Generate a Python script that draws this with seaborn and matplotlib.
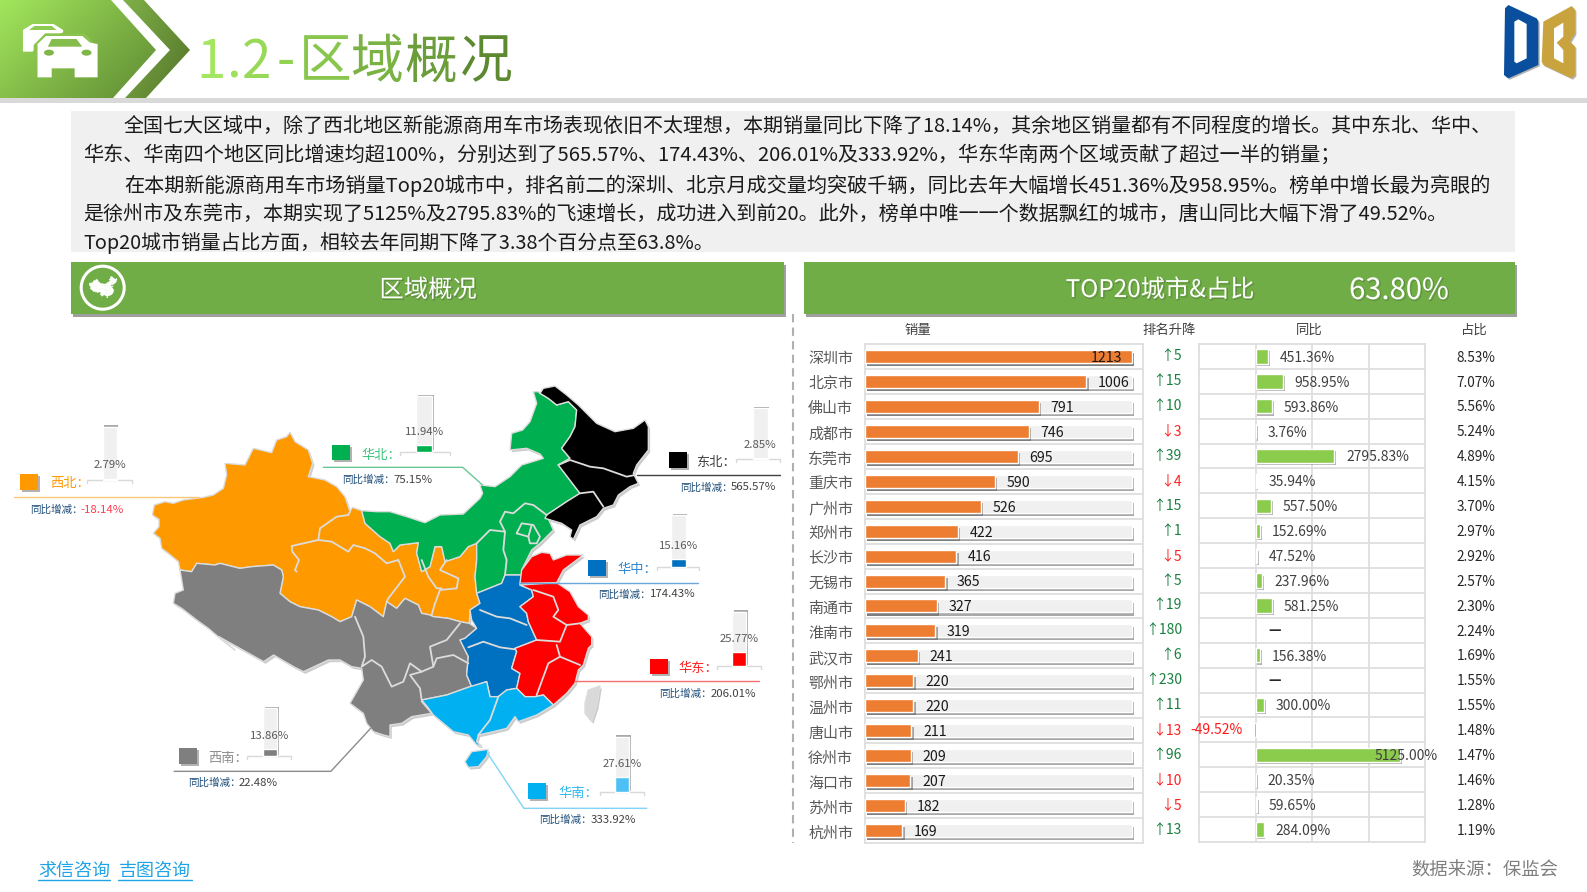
#!/usr/bin/env python3
"""新能源商用车 区域概况 + TOP20城市"""
import numpy as np
import pandas as pd
import matplotlib
matplotlib.use('Agg')
import matplotlib.pyplot as plt
import matplotlib.patheffects as pe
from matplotlib.colors import LinearSegmentedColormap
from matplotlib.patches import Polygon, Circle, Ellipse, Rectangle
from matplotlib.transforms import ScaledTranslation
import seaborn as sns

# ---- top20 data ----
cities = ['深圳市', '北京市', '佛山市', '成都市', '东莞市', '重庆市', '广州市', '郑州市', '长沙市', '无锡市',
          '南通市', '淮南市', '武汉市', '鄂州市', '温州市', '唐山市', '徐州市', '海口市', '苏州市', '杭州市']
sales = [1213, 1006, 791, 746, 695, 590, 526, 422, 416, 365, 327, 319, 241, 220, 220, 211, 209, 207, 182, 169]
rank_change = [5, 15, 10, -3, 39, -4, 15, 1, -5, 5, 19, 180, 6, 230, 11, -13, 96, -10, -5, 13]
yoy = [451.36, 958.95, 593.86, 3.76, 2795.83, 35.94, 557.50, 152.69, 47.52, 237.96,
       581.25, np.nan, 156.38, np.nan, 300.00, -49.52, 5125.00, 20.35, 59.65, 284.09]
share = [8.53, 7.07, 5.56, 5.24, 4.89, 4.15, 3.70, 2.97, 2.92, 2.57,
         2.30, 2.24, 1.69, 1.55, 1.55, 1.48, 1.47, 1.46, 1.28, 1.19]

# ---- region data ----
regions = ['西北', '华北', '东北', '华中', '华东', '华南', '西南']
region_share = [2.79, 11.94, 2.85, 15.16, 25.77, 27.61, 13.86]
region_yoy = [-18.14, 75.15, 565.57, 174.43, 206.01, 333.92, 22.48]

paragraph = [
    '全国七大区域中，除了西北地区新能源商用车市场表现依旧不太理想，本期销量同比下降了18.14%，其余地区销量都有不同程度的增长。其中东北、华中、',
    '华东、华南四个地区同比增速均超100%，分别达到了565.57%、174.43%、206.01%及333.92%，华东华南两个区域贡献了超过一半的销量；',
    '在本期新能源商用车市场销量Top20城市中，排名前二的深圳、北京月成交量均突破千辆，同比去年大幅增长451.36%及958.95%。榜单中增长最为亮眼的',
    '是徐州市及东莞市，本期实现了5125%及2795.83%的飞速增长，成功进入到前20。此外，榜单中唯一一个数据飘红的城市，唐山同比大幅下滑了49.52%。',
    'Top20城市销量占比方面，相较去年同期下降了3.38个百分点至63.8%。',
]

W, H = 1587, 892
sns.set_theme(style='white')
plt.rcParams['font.family'] = ['Noto Sans CJK SC', 'DejaVu Sans']
plt.rcParams['axes.unicode_minus'] = False

fig = plt.figure(figsize=(W / 100, H / 100), dpi=100, facecolor='white')


def px_axes(x0, y0, x1, y1, zorder=2):
    a = fig.add_axes([x0 / W, 1 - y1 / H, (x1 - x0) / W, (y1 - y0) / H], zorder=zorder)
    a.patch.set_alpha(0)
    return a


bg = px_axes(0, 0, W, H, zorder=0)
bg.set_xlim(0, W)
bg.set_ylim(H, 0)
bg.axis('off')


def shadow(dx=1.5, dy=-2, alpha=0.55, color='#404040'):
    return [pe.SimplePatchShadow(offset=(dx, dy), shadow_rgbFace=color, alpha=alpha), pe.Normal()]


def gradient_patch(points, c0, c1):
    poly = Polygon(points, closed=True, fc='none', ec='none')
    bg.add_patch(poly)
    xs = [p[0] for p in points]
    ys = [p[1] for p in points]
    gx, gy = np.meshgrid(np.linspace(0, 1, 200), np.linspace(0, 1, 100))
    cmap = LinearSegmentedColormap.from_list('g', [c0, c1])
    im = bg.imshow(0.6 * gx + 0.4 * gy, extent=(min(xs), max(xs), max(ys), min(ys)), cmap=cmap, aspect='auto', zorder=1)
    im.set_clip_path(poly)


# ---- header ----
gradient_patch([(0, 0), (111, 0), (156, 50), (113, 98), (0, 98)], '#a2e65c', '#5f8a33')
gradient_patch([(123, 0), (144, 0), (190, 50), (146, 98), (125, 98), (170, 50)], '#7fb048', '#55752a')
bg.add_patch(Rectangle((0, 98), W, 4.5, fc='#d9d9d9', ec='none', zorder=2))


def z3(pts):
    return [(x / 2.613, y / 3) for x, y in pts]


back_car = [(60, 90), (85, 72), (140, 72), (165, 90), (165, 97), (110, 125), (85, 155), (60, 155)]
front_car = [(98, 132), (120, 108), (215, 108), (235, 128), (255, 132), (255, 232), (195, 232), (195, 205),
             (135, 205), (135, 232), (98, 232)]
bg.add_patch(Polygon(z3(back_car), fc='white', ec='none', zorder=3))
bg.add_patch(Polygon(z3([(76, 90), (90, 78), (135, 78), (148, 90)]), fc='#8ccb50', ec='none', zorder=3))
bg.add_patch(Polygon(z3([(88, 135), (118, 100), (222, 100), (245, 130), (245, 170), (88, 170)]), fc='#8ac44e', ec='none', zorder=3))
bg.add_patch(Polygon(z3(front_car), fc='white', ec='none', zorder=3))
bg.add_patch(Polygon(z3([(125, 140), (135, 117), (200, 117), (215, 140)]), fc='#85bd4c', ec='none', zorder=4))
for cx in (128, 226):
    bg.add_patch(Ellipse((cx / 2.613, 158 / 3), 10, 6, fc='#80b648', ec='none', zorder=4))

title_chars = ['1', '.', '2', '-', '区', '域', '概', '况']
title_xc = [211, 233, 257, 286, 325, 376, 430.5, 486]
title_cmap = LinearSegmentedColormap.from_list('t', ['#a4e660', '#8fd052', '#5d8a30'])
for k, (ch, xc) in enumerate(zip(title_chars, title_xc)):
    bg.text(xc, 62, ch, fontsize=38, color=title_cmap(k / 7), ha='center', va='center', fontweight='light')

# logo
logo_d = [(75, 25), (85, 15), (170, 55), (175, 65), (175, 195), (85, 235), (72, 225)]
logo_d_hole = [(103, 65), (115, 58), (140, 72), (140, 175), (110, 190), (103, 185)]
logo_b = [(190, 65), (275, 18), (285, 30), (285, 100), (270, 125), (285, 140), (285, 225), (275, 235), (190, 195), (185, 185)]
logo_b_hole = [(222, 85), (250, 68), (250, 110), (230, 128), (250, 150), (250, 190), (222, 175)]


def z4(pts):
    return [(1480 + x / 3, y / 3) for x, y in pts]


bg.add_patch(Polygon(z4(logo_d), fc='#0a4f9e', ec='none', zorder=3, path_effects=shadow(1, -1, 0.4)))
bg.add_patch(Polygon(z4(logo_d_hole), fc='white', ec='none', zorder=3))
bg.add_patch(Polygon(z4(logo_b), fc='#c9a33e', ec='none', zorder=3, path_effects=shadow(1, -1, 0.4)))
bg.add_patch(Polygon(z4(logo_b_hole), fc='white', ec='none', zorder=3))

# ---- paragraph ----
bg.add_patch(Rectangle((71, 111), 1444, 141, fc='#f0f0f0', ec='none', zorder=1))
para_y = [126.5, 155.5, 185.5, 214.5, 243]
para_x0 = [124, 83, 124, 83, 83]
para_x1 = [1490, 1342, 1492, 1447, 712]
renderer = fig.canvas.get_renderer()
for line, y, x0, x1 in zip(paragraph, para_y, para_x0, para_x1):
    t = bg.text(x0, y, line, fontsize=14.5, color='#1a1a1a', ha='left', va='center', zorder=3)
    t.set_fontsize(14.5 * (x1 - x0) / t.get_window_extent(renderer).width)

# ---- green bars ----
for x0, x1 in ((71, 784), (804, 1515)):
    bg.add_patch(Rectangle((x0, 262), x1 - x0, 52, fc='#70ad47', ec='none', zorder=2, path_effects=shadow(1.2, -1.8, 0.5)))
txt_fx = [pe.SimpleLineShadow(offset=(0.8, -0.8), shadow_color='#333333', alpha=0.45, linewidth=0.4), pe.Normal()]
bg.text(428, 290, '区域概况', color='white', fontsize=17.5, ha='center', va='center', zorder=3, path_effects=txt_fx)
bg.text(1160, 290, 'TOP20城市&占比', color='white', fontsize=17.5, ha='center', va='center', zorder=3, path_effects=txt_fx)
bg.text(1399, 291, '63.80%', color='white', fontsize=21, ha='center', va='center', zorder=3, path_effects=txt_fx)
bg.add_patch(Circle((102.7, 287.7), 21.5, fc='none', ec='white', lw=2.2, zorder=3))

bg.plot([792.7, 792.7], [314, 843], color='#b0b0b0', lw=1.5, ls=(0, (4, 2.5)), zorder=1)


# ---- map outlines (three crops, each 3x) ----
def ca(pts):
    return [(145 + x / 3, 420 + y / 3) for x, y in pts]


def cb(pts):
    return [(340 + x / 3, 380 + y / 3) for x, y in pts]


def cc(pts):
    return [(340 + x / 3, 560 + y / 3) for x, y in pts]


nw_outer = ca([(105, 450), (100, 425), (70, 400), (50, 385), (45, 355), (25, 340), (42, 320), (42, 298), (22, 285),
               (28, 255), (60, 245), (85, 250), (115, 240), (175, 232), (205, 225), (235, 205), (245, 165), (240, 130),
               (300, 135), (325, 85), (380, 98), (395, 60), (425, 50), (435, 37), (450, 65), (490, 90), (503, 130),
               (490, 170), (540, 180), (575, 200), (600, 230), (615, 275), (622, 262)])
orange_green = cb([(65, 392), (75, 430), (120, 470), (150, 490), (160, 515), (180, 495), (235, 488), (230, 520), (245, 575),
                   (270, 560), (285, 500), (305, 500), (315, 545), (360, 530), (385, 500), (410, 490)]) + \
    cc([(410, 0), (405, 50), (410, 100)])
orange_blue = cc([(420, 130), (390, 150), (388, 190)])
orange_grey_e = cc([(360, 185), (325, 175), (280, 170), (270, 165), (245, 160), (235, 135), (195, 115), (170, 145),
                    (140, 125), (130, 170), (90, 140), (50, 120), (35, 170), (0, 185)])
orange_grey_w = ca([(560, 590), (520, 570), (465, 560), (435, 545), (405, 520), (415, 470), (410, 450), (385, 435),
                    (320, 440), (285, 445), (225, 430), (210, 435), (155, 430), (140, 455), (105, 450)])
green_north = cb([(65, 392), (110, 395), (150, 395), (200, 410), (255, 428), (300, 405), (370, 402), (420, 355), (428, 340),
                  (420, 315), (465, 320), (510, 290), (545, 255), (610, 235), (600, 222), (560, 205), (510, 210),
                  (515, 160), (548, 150), (570, 125), (590, 70), (580, 35), (595, 35), (600, 40)])
green_black = cb([(620, 405), (680, 365), (720, 340), (655, 255), (690, 235), (665, 205), (690, 170), (705, 140),
                  (710, 90), (685, 65), (650, 75), (625, 55), (600, 40)])
black_outer = cb([(600, 40), (610, 25), (645, 18), (680, 45), (715, 75), (745, 105), (770, 130), (825, 155), (880, 145),
                  (915, 120), (925, 140), (925, 210), (890, 255), (880, 280), (895, 310), (870, 320), (835, 345),
                  (820, 375), (790, 385), (770, 410), (720, 435), (700, 478), (690, 470), (695, 450), (665, 430),
                  (615, 415), (620, 405)])
green_coast = cb([(640, 450), (600, 490), (575, 510), (545, 570)])
green_blue = cc([(545, 45), (495, 45), (485, 70), (410, 100)])
shandong = cc([(545, 30), (575, -10), (605, -23), (630, -20), (640, 0), (680, -15), (730, -15), (670, 30), (650, 68), (540, 70)])
blue_red = cc([(540, 75), (575, 90), (580, 110), (540, 140), (560, 160), (565, 185), (590, 240), (525, 265), (530, 275),
               (515, 325), (540, 340), (530, 385)])
red_east = cc([(540, 395), (555, 410), (585, 410), (610, 405), (640, 435), (680, 400), (705, 370), (715, 330), (730, 315),
               (745, 265), (755, 255), (755, 230), (720, 190), (745, 180), (745, 165), (715, 140), (690, 95), (650, 68)])
blue_west = cc([(500, 390), (475, 410), (450, 410), (440, 365), (395, 380), (380, 345), (385, 290), (360, 240), (375, 235),
                (410, 205), (395, 180), (390, 150), (420, 130), (410, 100), (485, 70), (495, 45), (545, 45)])
south_outer = cc([(640, 435), (590, 465), (535, 485), (525, 470), (500, 505), (460, 515), (415, 525), (410, 545), (425, 558),
                  (410, 555), (385, 525), (340, 515), (310, 490), (280, 465), (262, 440), (245, 420), (320, 405), (390, 380),
                  (440, 365), (450, 410), (475, 410), (500, 390), (530, 385), (540, 395), (555, 410), (585, 410), (610, 405)])
grey_south = ca([(105, 450), (110, 480), (115, 510), (90, 520), (85, 550), (110, 565), (155, 600), (190, 625), (225, 655), (270, 690)]) + \
    [(x / 2.01, 370 + y / 3) for x, y in [(440, 800), (530, 875), (550, 855), (590, 890), (610, 905), (660, 870)]] + \
    cc([(0, 300), (35, 320), (65, 325), (70, 360), (30, 430), (70, 460), (80, 490), (100, 515), (130, 525), (150, 530), (150, 495),
        (185, 490), (215, 470), (275, 460), (245, 425), (245, 420), (320, 405), (390, 380), (395, 380), (380, 345), (385, 290),
        (360, 240), (375, 235), (410, 205), (388, 190)])

map_shapes = {
    '西北': ('#ff9900', nw_outer + orange_green + orange_blue + orange_grey_e + orange_grey_w),
    '华北': ('#00b050', green_north + green_black[::-1] + green_coast + green_blue + orange_green[::-1]),
    '东北': ('#000000', black_outer + green_black),
    '山东': ('#ff0000', shandong),
    '华东': ('#ff0000', blue_red + red_east),
    '华中': ('#0070c0', blue_red + blue_west[:2] + blue_west[2:]),
    '华南': ('#00b0f0', south_outer),
    '海南': ('#00b0f0', cc([(375, 605), (395, 575), (445, 568), (440, 590), (415, 620), (385, 622)])),
    '西南': ('#7f7f7f', orange_grey_e + orange_grey_w + grey_south),
    '台湾': ('#d9d9d9', cc([(735, 430), (745, 390), (780, 378), (770, 440), (755, 485), (735, 460)])),
}
map_borders = [
    ca([(615, 275), (610, 285), (575, 290), (525, 325), (520, 360)]),
    ca([(520, 360), (440, 378), (442, 395), (462, 420), (450, 450), (455, 455)]),
    ca([(520, 360), (560, 365), (610, 395), (625, 375), (660, 385), (690, 400)]) + cc([(140, 10), (175, 0)]),
    cc([(175, 0), (195, 50), (145, 115), (140, 125)]),
    cc([(245, 0), (265, 50), (290, 85), (305, 85)]),
    cc([(320, 0), (300, 30), (355, 55), (350, 85), (300, 90), (285, 130), (275, 165)]),
    cc([(45, 170), (70, 230), (75, 290), (65, 320), (95, 300), (125, 320), (155, 380), (190, 365), (210, 310), (245, 335), (280, 320),
        (270, 260), (320, 240), (360, 190)]),
    cc([(280, 320), (290, 295), (340, 285), (385, 310)]),
    cc([(245, 335), (210, 345), (240, 385), (245, 420)]),
    cc([(420, 150), (470, 170), (510, 175), (560, 195)]),
    cc([(385, 262), (430, 245), (480, 262), (525, 268)]),
    cc([(580, 90), (640, 110), (655, 150), (640, 170), (680, 195), (720, 190)]),
    cc([(680, 195), (660, 245), (590, 240)]),
    cc([(650, 255), (660, 290), (720, 315)]),
    cc([(660, 290), (625, 310), (590, 405)]),
    cc([(475, 410), (450, 480), (415, 525)]),
    cb([(620, 405), (580, 375), (555, 370), (520, 400), (495, 395), (480, 425), (495, 455), (450, 450), (410, 490)]),
    cb([(495, 455), (490, 510), (500, 540), (495, 585)]),
    cb([(530, 460), (545, 430), (580, 435), (600, 470), (590, 490), (570, 490), (565, 470), (530, 460)]),
    cb([(565, 470), (575, 435)]),
    cb([(655, 255), (690, 240), (750, 260), (790, 265), (860, 290), (885, 285)]),
    cb([(720, 340), (760, 335), (790, 380)]),
]

for name, (col, pts) in map_shapes.items():
    bg.add_patch(Polygon([(x + 1.8, y + 2.2) for x, y in pts], fc='#000000', alpha=0.2, ec='none', zorder=2))
for name in ('西北', '华北', '东北', '西南', '华中', '华东', '山东', '华南', '海南', '台湾'):
    col, pts = map_shapes[name]
    bg.add_patch(Polygon(pts, fc=col, ec='#dcdcdc', lw=1.0, zorder=3, joinstyle='round'))
for seg in map_borders:
    xy = np.array(seg)
    bg.plot(xy[:, 0], xy[:, 1], color='#dcdcdc', lw=1.3, zorder=4, solid_joinstyle='round')

# small white china in the round badge
for name, (col, pts) in map_shapes.items():
    if name == '台湾':
        continue
    small = [(103 + (x - 400) * 0.056, 288 + (y - 590) * 0.056) for x, y in pts]
    bg.add_patch(Polygon(small, fc='white', ec='white', lw=0.3, zorder=4))


def z2(pts):
    return [(x / 2.01, 370 + y / 3) for x, y in pts]


# ---- region call-outs ----
region_color = ['#ff9900', '#00b050', '#000000', '#0070c0', '#ff0000', '#00b0f0', '#7f7f7f']
label_color = ['#ff9900', '#3cc47c', '#404040', '#2e86d0', '#ff2020', '#30b8f0', '#8c8c8c']
fill_color = ['#ff9900', '#00b050', '#262626', '#0070c0', '#ff0000', '#4fc0f5', '#7f7f7f']
line_color = ['#f8c878', '#66c896', '#404040', '#6aa8dc', '#f07070', '#80d4f5', '#8c8c8c']
square_xy = [(40, 312), (667, 224), (1344, 247), (1182, 570), (1307, 866), (1062, 1240), (360, 1134)]
label_xy = [(100, 338), (727, 252), (1400, 275), (1241, 596), (1364, 891), (1122, 1266), (419, 1162)]
sub_xy = [(60, 417), (688, 327), (1367, 349), (1203, 670), (1325, 968), (1084, 1347), (378, 1236)]
track_box = [(207, 170, 235, 330), (837, 78, 869, 245), (1513, 115, 1543, 268), (1349, 435, 1378, 592),
             (1472, 725, 1500, 888), (1236, 1100, 1265, 1266), (529, 1015, 557, 1158)]
base_span = [(175, 265), (803, 905), (1480, 1568), (1320, 1405), (1442, 1530), (1205, 1295), (497, 585)]
lead_lines = [[(28, 382), (400, 382)], [(650, 292), (930, 292), (970, 345)], [(1280, 316), (1568, 316)],
              [(1045, 638), (1402, 638)], [(1155, 934), (1525, 934)], [(980, 1150), (1053, 1315), (1300, 1315)],
              [(745, 1075), (665, 1204), (350, 1204)]]

for i, name in enumerate(regions):
    (sx, sy) = z2([square_xy[i]])[0]
    bg.add_patch(Rectangle((sx, sy), 18, 15.5, fc=region_color[i], ec='none', zorder=5, path_effects=shadow(1.5, -1.5, 0.4)))
    (lx, ly) = z2([label_xy[i]])[0]
    bg.text(lx, ly + 1, name + '：', color=label_color[i], fontsize=9.5, ha='left', va='center', zorder=6)
    ll = np.array(z2(lead_lines[i]))
    bg.plot(ll[:, 0], ll[:, 1], color=line_color[i], lw=1.0, zorder=5)
    (ux, uy) = z2([sub_xy[i]])[0]
    bg.text(ux, uy + 1, '同比增减：', color='#1f4e79', fontsize=7.6, ha='left', va='center', zorder=6)
    vcol = '#ff3b50' if region_yoy[i] < 0 else '#404040'
    bg.text(ux + 51, uy + 1, f'{region_yoy[i]:.2f}%', color=vcol, fontsize=8.2, ha='left', va='center', zorder=6)
    # baseline under the mini bar
    x0, y0, x1, y1 = track_box[i]
    bx = np.array(base_span[i]) / 2.01
    by = 370 + y1 / 3
    bg.plot([bx[0], bx[0], bx[1], bx[1]], [by + 3, by, by, by + 3], color='#d9d9d9', lw=1, zorder=2)
    # mini bar, axis 0-100%
    ax_m = px_axes(x0 / 2.01, 370 + y0 / 3, x1 / 2.01, 370 + y1 / 3, zorder=3)
    sns.barplot(x=[name], y=[100], color='#f0f0f0', saturation=1, width=1, ax=ax_m, errorbar=None)
    sns.barplot(x=[name], y=[region_share[i]], color=fill_color[i], saturation=1, width=1, ax=ax_m, errorbar=None)
    ax_m.patches[0].set_path_effects(shadow(1, 1.0, 0.45))
    ax_m.patches[0].set_clip_on(False)
    ax_m.set_xlim(-0.5, 0.5)
    ax_m.set_ylim(0, 100)
    ax_m.axis('off')
    ax_m.annotate(f'{region_share[i]:.2f}%', (0, region_share[i]), xytext=(0, 9.5), textcoords='offset points',
                  ha='center', va='center', fontsize=8.2, color='#595959', annotation_clip=False)

# ---- top20 table ----
df = pd.DataFrame({'city': cities, 'sales': sales, 'yoy': yoy, 'share': share, 'rank': rank_change})
frame_col = '#dedede'
row_y = np.arange(len(cities))


def style_table(a, ylabels):
    a.set_ylim(len(cities) - 0.5, -0.5)
    a.set_yticks(row_y[:-1] + 0.5, minor=True)
    a.grid(False)
    a.grid(True, which='minor', axis='y', color=frame_col, lw=1.3)
    a.tick_params(which='both', length=0, bottom=False, labelbottom=False)
    a.set_xlabel('')
    a.set_ylabel('')
    a.set_axisbelow(True)
    for s in a.spines.values():
        s.set_visible(True)
        s.set_color(frame_col)
        s.set_linewidth(1.3)
    if not ylabels:
        a.set_yticks([])
        a.set_yticks(row_y[:-1] + 0.5, minor=True)


ax_s = px_axes(865, 344, 1143, 843)
sns.barplot(y=cities, x=[max(sales)] * len(cities), color='#f0f0f0', saturation=1, width=0.52, ax=ax_s, errorbar=None, order=cities)
track_n = len(ax_s.patches)
sns.barplot(data=df, y='city', x='sales', color='#ed7d31', saturation=1, width=0.52, ax=ax_s, errorbar=None, order=cities)
for k, p in enumerate(ax_s.patches):
    p.set_path_effects(shadow(1.8, -2.2, 0.5, '#555555'))
    p.set_zorder(3 if k < track_n else 4)
    p.set_clip_on(False)
ax_s.set_xlim(0, max(sales) * 278 / 266.5)
style_table(ax_s, True)
ax_s.tick_params(axis='y', which='major', pad=8.5, labelsize=10.8, labelcolor='#595959')
for lab in ax_s.get_yticklabels():
    lab.set_transform(lab.get_transform() + ScaledTranslation(0, -1 / 72, fig.dpi_scale_trans))
for i, v in enumerate(sales):
    dx = -29 if v == max(sales) else 8.5
    ax_s.annotate(str(v), (v, i), xytext=(dx, -1), textcoords='offset points', ha='left', va='center',
                  fontsize=10.2, color='#1a1a1a', zorder=6, annotation_clip=False)

ax_y = px_axes(1199, 344, 1425, 842)
sns.barplot(data=df, y='city', x='yoy', color='#8ccc4c', saturation=1, width=0.58, ax=ax_y, errorbar=None, order=cities)
for p in ax_y.patches:
    if p.get_width() < 0:
        p.set_facecolor('#ff5a5a')
    else:
        p.set_path_effects(shadow(1.4, -1.6, 0.4))
    p.set_zorder(3)
ax_y.set_xlim(-2000, 6000)
style_table(ax_y, False)
ax_y.set_xticks([0, 2000, 4000])
ax_y.grid(True, which='major', axis='x', color=frame_col, lw=1.3)
ax_y.tick_params(axis='x', length=0, labelbottom=False)

trans = ax_y.get_yaxis_transform()
for i, v in enumerate(yoy):
    if np.isnan(v):
        ax_y.annotate('—', (0, i), xytext=(9.5, 0), textcoords='offset points', ha='left', va='center',
                      fontsize=10, color='#262626', zorder=6, fontweight='bold')
    elif v < 0:
        ax_y.annotate(f'{v:.2f}%', (v, i), xytext=(-8, 0), textcoords='offset points', ha='right', va='center',
                      fontsize=10, color='#ff1a1a', zorder=6, annotation_clip=False)
    else:
        dx = -18.5 if v == max(x for x in yoy if not np.isnan(x)) else 8.5
        ax_y.annotate(f'{v:.2f}%', (v, i), xytext=(dx, -1), textcoords='offset points', ha='left', va='center',
                      fontsize=10, color='#404040', zorder=6, annotation_clip=False)
    r = rank_change[i]
    ax_y.text(-17 / 226, i, ('↑' if r > 0 else '↓') + str(abs(r)), transform=trans, ha='right', va='center',
              fontsize=10, color='#1a8040' if r > 0 else '#ff2020', clip_on=False)
    ax_y.text(257.5 / 226, i + 0.05, f'{share[i]:.2f}%', transform=trans, ha='left', va='center',
              fontsize=9.8, color='#262626', clip_on=False)

for x, name in ((918, '销量'), (1169, '排名升降'), (1309, '同比'), (1474, '占比')):
    bg.text(x, 330, name, fontsize=9.6, color='#404040', ha='center', va='center', zorder=3)

# ---- footer ----
for x0, x1, name in ((37.5, 110, '求信咨询'), (118, 192, '吉图咨询')):
    bg.text((x0 + x1) / 2, 870.5, name, fontsize=13, color='#1ea3e6', ha='center', va='center', zorder=3)
    bg.plot([x0, x1], [880, 880], color='#1ea3e6', lw=1, zorder=3)
bg.text(1558, 871, '数据来源：保监会', fontsize=13.2, color='#7f7f7f', ha='right', va='center', style='italic', zorder=3)

bg.set_xlim(0, W)
bg.set_ylim(H, 0)
fig.savefig('out.png', dpi=100, facecolor='white')
